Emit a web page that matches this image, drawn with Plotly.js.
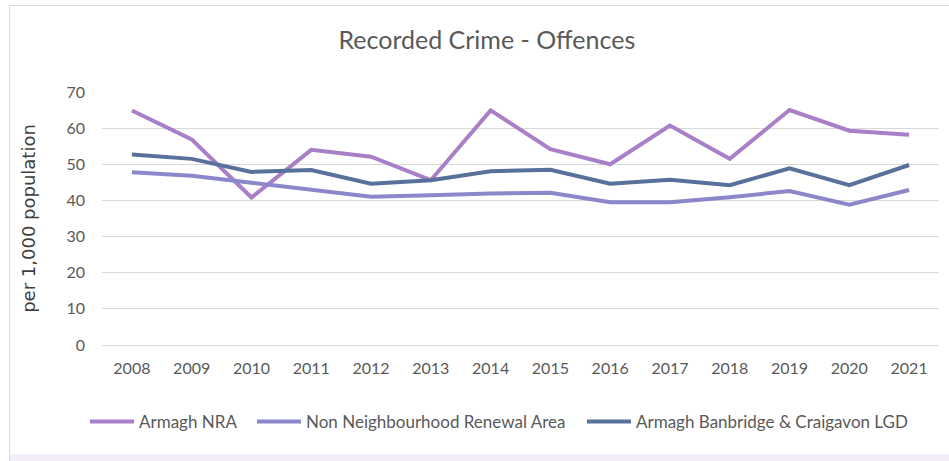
<!DOCTYPE html>
<html>
<head>
<meta charset="utf-8">
<script src="https://cdn.plot.ly/plotly-3.0.1.min.js"></script>
<style>html,body{margin:0;padding:0;background:#fff;}#chart{width:949px;height:461px;}</style>
</head>
<body>
<div id="chart"></div>
<script>
const years = ['2008','2009','2010','2011','2012','2013','2014','2015','2016','2017','2018','2019','2020','2021'];
const armaghNRA = [64.9, 56.9, 40.8, 54.0, 52.1, 45.6, 64.9, 54.2, 50.0, 60.7, 51.5, 65.0, 59.3, 58.2];
const nonNRA = [47.8, 46.8, 44.9, 43.0, 41.0, 41.4, 41.9, 42.1, 39.5, 39.5, 40.9, 42.6, 38.8, 42.9];
const abcLGD = [52.7, 51.5, 47.9, 48.4, 44.6, 45.6, 48.1, 48.5, 44.6, 45.7, 44.2, 48.9, 44.2, 49.8];
const seriesNames = ['Armagh NRA', 'Non Neighbourhood Renewal Area', 'Armagh Banbridge & Craigavon LGD'];
const yTicks = [0, 10, 20, 30, 40, 50, 60, 70];

const colors = ['#a97fc7', '#8c86ca', '#58719b'];
const legendIds = ['legend', 'legend2', 'legend3'];
const data = [armaghNRA, nonNRA, abcLGD].map((vals, i) => ({
  x: years, y: vals, name: seriesNames[i], type: 'scatter', mode: 'lines',
  legend: legendIds[i],
  line: {color: colors[i], width: 4, shape: 'linear'}
}));

const font = 'Lato, "Open Sans", sans-serif';
const W = 949, H = 461, L = 102, R = 10, T = 92, B = 116;
const pw = W - L - R, ph = H - T - B;
const px = v => (v - L) / pw;          // pixel x -> paper x
const py = v => (H - B - v) / ph;      // pixel y -> paper y
const legFont = {family: font, size: 17, color: '#595959'};
const legendStarts = [85, 252, 582];
const mkLegend = x0 => ({orientation: 'h', x: px(x0), xanchor: 'left', y: py(422), yanchor: 'middle',
  font: legFont, itemwidth: 44, bgcolor: 'rgba(0,0,0,0)'});
const layout = {
  width: W, height: H,
  margin: {l: L, r: R, t: T, b: B},
  paper_bgcolor: '#ffffff', plot_bgcolor: '#ffffff',
  title: {text: 'Recorded Crime - Offences', font: {family: font, size: 25, color: '#595959'}, x: 0.513, xanchor: 'center', y: 1 - 40 / H, yanchor: 'middle'},
  xaxis: {type: 'category', range: [-0.5, 13.5], tickfont: {family: font, size: 16, color: '#595959'}, showgrid: false, showline: false, ticks: '', ticklabelstandoff: 12, fixedrange: true},
  yaxis: {range: [0, 70], tickvals: yTicks, tickfont: {family: font, size: 16, color: '#595959'},
          gridcolor: '#d9d9d9', gridwidth: 1, zeroline: true, zerolinecolor: '#d9d9d9', zerolinewidth: 1,
          showline: false, ticks: '', ticklabelstandoff: 16,
          title: {text: 'per 1,000 population', font: {family: '"DejaVu Sans", sans-serif', size: 18, color: '#404040'}, standoff: 26}},
  showlegend: true,
  legend: mkLegend(legendStarts[0]),
  legend2: mkLegend(legendStarts[1]),
  legend3: mkLegend(legendStarts[2]),
  shapes: [
    {type: 'rect', xref: 'paper', yref: 'paper', x0: px(9.5), x1: px(960), y0: py(470), y1: py(5.5), line: {color: '#d9d9d9', width: 1}, fillcolor: 'rgba(0,0,0,0)', layer: 'below'},
    {type: 'rect', xref: 'paper', yref: 'paper', x0: px(10), x1: px(960), y0: py(470), y1: py(454), line: {width: 0}, fillcolor: '#f2edf9', layer: 'below'}
  ]
};
Plotly.newPlot('chart', data, layout, {displayModeBar: false, staticPlot: true});
</script>
</body>
</html>
